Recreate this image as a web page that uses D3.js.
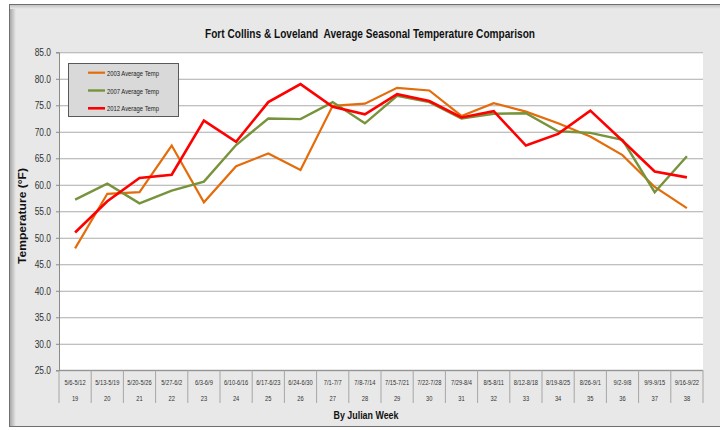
<!DOCTYPE html>
<html>
<head>
<meta charset="utf-8">
<script src="https://cdn.jsdelivr.net/npm/d3@7"></script>
<style>
  body { margin: 0; background: #fff; }
  svg { display: block; }
  .narrow { font-family: "Liberation Sans", Arial, sans-serif; }
</style>
</head>
<body>
<script>
// data
var weeks = [19, 20, 21, 22, 23, 24, 25, 26, 27, 28, 29, 30, 31, 32, 33, 34, 35, 36, 37, 38];
var ranges = ['5/6-5/12', '5/13-5/19', '5/20-5/26', '5/27-6/2', '6/3-6/9', '6/10-6/16', '6/17-6/23',
  '6/24-6/30', '7/1-7/7', '7/8-7/14', '7/15-7/21', '7/22-7/28', '7/29-8/4', '8/5-8/11', '8/12-8/18',
  '8/19-8/25', '8/26-9/1', '9/2-9/8', '9/9-9/15', '9/16-9/22'];
var temp2003 = [48.0, 58.3, 58.6, 67.4, 56.7, 63.5, 65.9, 62.8, 74.9, 75.3, 78.3, 77.8, 73.0, 75.4, 73.8, 71.6, 69.1, 65.6, 59.6, 55.6];
var temp2007 = [57.2, 60.2, 56.5, 58.9, 60.6, 67.5, 72.5, 72.4, 75.6, 71.6, 76.8, 75.6, 72.5, 73.4, 73.5, 70.1, 69.8, 68.5, 58.6, 65.4];
var temp2012 = [51.0, 56.9, 61.3, 61.9, 72.1, 68.1, 75.6, 79.0, 74.7, 73.3, 77.1, 75.8, 72.7, 73.9, 67.4, 69.6, 74.0, 68.3, 62.5, 61.4];
var seriesNames = ['2003 Average Temp', '2007 Average Temp', '2012 Average Temp'];
var yTicks = [25, 30, 35, 40, 45, 50, 55, 60, 65, 70, 75, 80, 85];

var W = 720, H = 430;
var plot = { left: 59, right: 703, top: 52.3, bottom: 370.3 };

var series = [
  { name: seriesNames[0], values: temp2003, color: '#e46c0a', width: 2.2 },
  { name: seriesNames[1], values: temp2007, color: '#77933c', width: 2.4 },
  { name: seriesNames[2], values: temp2012, color: '#ff0000', width: 2.6 }
];

var svg = d3.select('body').append('svg')
  .attr('width', W)
  .attr('height', H);

// squeeze text horizontally so it looks like a condensed face
function squeeze(sel, k) {
  sel.each(function() {
    var len = this.getComputedTextLength();
    d3.select(this)
      .attr('textLength', len * k)
      .attr('lengthAdjust', 'spacingAndGlyphs');
  });
}

// frame with slight bevel
var defs = svg.append('defs');
var gl = defs.append('linearGradient').attr('id', 'bevL');
gl.append('stop').attr('offset', '0%').attr('stop-color', '#a8a8a8');
gl.append('stop').attr('offset', '100%').attr('stop-color', '#e8e8e8');
var gt = defs.append('linearGradient').attr('id', 'bevT')
  .attr('x1', 0).attr('y1', 0).attr('x2', 0).attr('y2', 1);
gt.append('stop').attr('offset', '0%').attr('stop-color', '#c4c4c4');
gt.append('stop').attr('offset', '100%').attr('stop-color', '#e8e8e8');

svg.append('rect')
  .attr('x', 9.5).attr('y', 4.5)
  .attr('width', 716).attr('height', 422)
  .attr('fill', '#e8e8e8')
  .attr('stroke', '#6f6f6f');
svg.append('rect')
  .attr('x', 10).attr('y', 5).attr('width', 6).attr('height', 421)
  .attr('fill', 'url(#bevL)');
svg.append('rect')
  .attr('x', 10).attr('y', 5).attr('width', 710).attr('height', 4)
  .attr('fill', 'url(#bevT)');

var x = d3.scaleBand()
  .domain(weeks)
  .range([plot.left, plot.right])
  .padding(0);

var y = d3.scaleLinear()
  .domain([25, 85])
  .range([plot.bottom, plot.top]);

svg.append('rect')
  .attr('x', plot.left).attr('y', plot.top)
  .attr('width', plot.right - plot.left)
  .attr('height', plot.bottom - plot.top)
  .attr('fill', '#fff');

// gridlines
svg.append('g')
  .attr('transform', 'translate(' + plot.left + ',0)')
  .call(d3.axisLeft(y).tickValues(yTicks).tickSize(-(plot.right - plot.left)).tickFormat(''))
  .call(function(g) {
    g.select('.domain').remove();
    g.selectAll('line').attr('stroke', '#ababab').attr('stroke-width', 1.1);
  });

// y axis
svg.append('g')
  .attr('transform', 'translate(' + plot.left + ',0)')
  .call(d3.axisLeft(y).tickValues(yTicks).tickSize(3).tickPadding(5).tickFormat(d3.format('.1f')))
  .call(function(g) {
    g.select('.domain').attr('stroke', '#8a8a8a');
    g.selectAll('line').attr('stroke', '#8a8a8a');
    g.selectAll('text')
      .attr('class', 'narrow')
      .style('font-size', '10.5px')
      .attr('fill', '#333')
      .call(squeeze, 0.8);
  });

// category axis
var cat = svg.append('g').attr('class', 'narrow');
cat.append('line')
  .attr('x1', plot.left).attr('x2', plot.right)
  .attr('y1', plot.bottom).attr('y2', plot.bottom)
  .attr('stroke', '#8a8a8a');
cat.selectAll('line.sep')
  .data(weeks.concat(['end']))
  .enter().append('line')
  .attr('class', 'sep')
  .attr('x1', function(d) { return d === 'end' ? plot.right : x(d); })
  .attr('x2', function(d) { return d === 'end' ? plot.right : x(d); })
  .attr('y1', plot.bottom)
  .attr('y2', 403)
  .attr('stroke', '#a6a6a6');
cat.selectAll('text.rng')
  .data(weeks)
  .enter().append('text')
  .attr('class', 'rng')
  .attr('x', function(d) { return x(d) + x.bandwidth() / 2; })
  .attr('y', 385)
  .attr('text-anchor', 'middle')
  .style('font-size', '7px')
  .attr('fill', '#333')
  .text(function(d, i) { return ranges[i]; })
  .call(squeeze, 0.82);
cat.selectAll('text.wk')
  .data(weeks)
  .enter().append('text')
  .attr('class', 'wk')
  .attr('x', function(d) { return x(d) + x.bandwidth() / 2; })
  .attr('y', 401)
  .attr('text-anchor', 'middle')
  .style('font-size', '7px')
  .attr('fill', '#333')
  .text(function(d) { return d; })
  .call(squeeze, 0.82);

// lines
var line = d3.line()
  .x(function(d, i) { return x(weeks[i]) + x.bandwidth() / 2; })
  .y(function(d) { return y(d); });

svg.selectAll('path.series')
  .data(series)
  .enter().append('path')
  .attr('class', 'series')
  .attr('d', function(d) { return line(d.values); })
  .attr('fill', 'none')
  .attr('stroke', function(d) { return d.color; })
  .attr('stroke-width', function(d) { return d.width; })
  .attr('stroke-linejoin', 'miter');

// titles
svg.append('text')
  .attr('class', 'narrow')
  .attr('x', 370)
  .attr('y', 38)
  .attr('text-anchor', 'middle')
  .style('font-size', '13px')
  .style('font-weight', 'bold')
  .style('white-space', 'pre')
  .attr('fill', '#111')
  .text('Fort Collins & Loveland  Average Seasonal Temperature Comparison')
  .attr('textLength', 330)
  .attr('lengthAdjust', 'spacingAndGlyphs');

svg.append('text')
  .attr('class', 'narrow')
  .attr('x', 366)
  .attr('y', 419)
  .attr('text-anchor', 'middle')
  .style('font-size', '11.5px')
  .style('font-weight', 'bold')
  .attr('fill', '#111')
  .text('By Julian Week')
  .attr('textLength', 65)
  .attr('lengthAdjust', 'spacingAndGlyphs');

svg.append('text')
  .attr('transform', 'translate(26,216) rotate(-90)')
  .attr('text-anchor', 'middle')
  .style('font-family', '"Liberation Sans", Arial, sans-serif')
  .style('font-size', '11px')
  .style('font-weight', 'bold')
  .attr('fill', '#111')
  .text('Temperature (°F)')
  .attr('textLength', 96)
  .attr('lengthAdjust', 'spacingAndGlyphs');

// legend
var legend = svg.append('g').attr('id', 'legend');
legend.append('rect')
  .attr('x', 68.5).attr('y', 63.5)
  .attr('width', 110).attr('height', 53)
  .attr('fill', '#d9d9d9')
  .attr('stroke', '#595959');
var item = legend.selectAll('g.item')
  .data(series)
  .enter().append('g')
  .attr('class', 'item')
  .attr('transform', function(d, i) { return 'translate(0,' + (72.7 + i * 17.8) + ')'; });
item.append('line')
  .attr('x1', 88).attr('x2', 105)
  .attr('stroke', function(d) { return d.color; })
  .attr('stroke-width', function(d) { return d.width; });
item.append('text')
  .attr('class', 'narrow')
  .attr('x', 107)
  .attr('y', 3)
  .style('font-size', '8px')
  .attr('fill', '#222')
  .text(function(d) { return d.name; })
  .attr('textLength', 52)
  .attr('lengthAdjust', 'spacingAndGlyphs');
</script>
</body>
</html>
